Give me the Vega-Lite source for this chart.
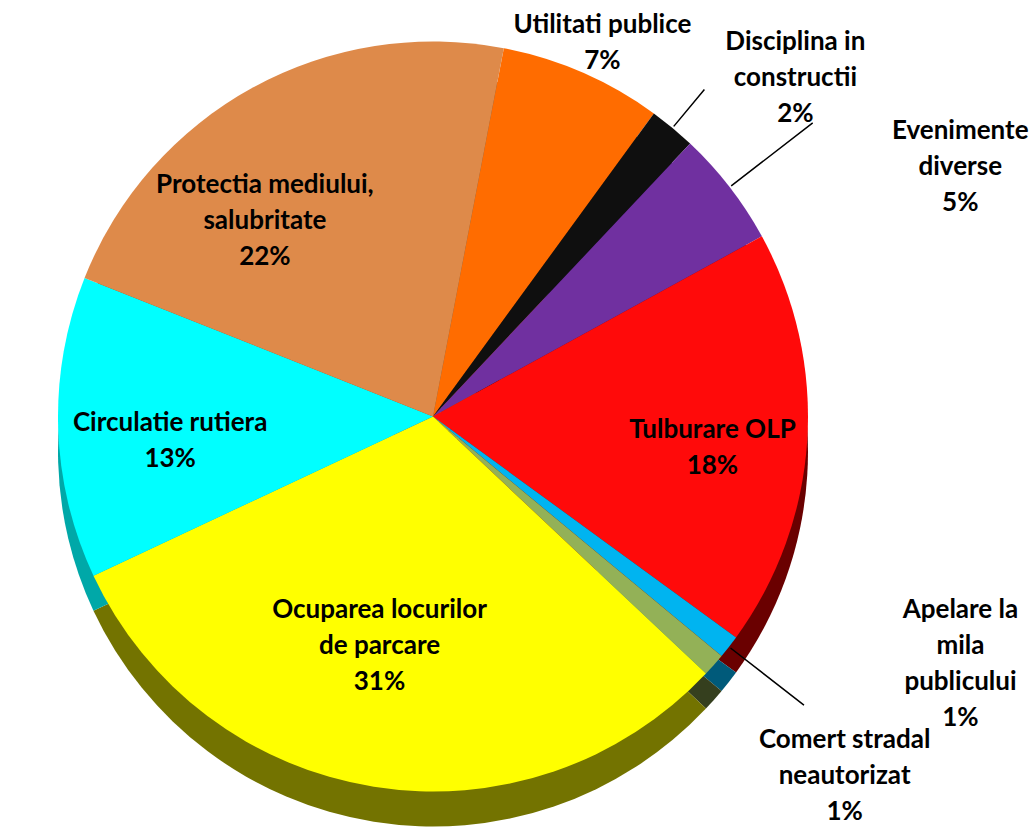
{
  "$schema": "https://vega.github.io/schema/vega-lite/v6.json",
  "width": 866,
  "height": 833,
  "autosize": {"type": "none"},
  "padding": {"left": 0, "top": 0, "right": 169, "bottom": 0},
  "background": "white",
  "config": {"view": {"stroke": null}, "text": {"font": "Lato", "fontWeight": "bold", "fontSize": 26, "lineHeight": 36, "lineBreak": "\n", "align": "center", "baseline": "middle", "color": "black"}},
  "data": {"values": [
    {"ord": 1, "cat": "Utilitati publice", "value": 7, "label": "Utilitati publice\n7%"},
    {"ord": 2, "cat": "Disciplina in constructii", "value": 2, "label": "Disciplina in\nconstructii\n2%"},
    {"ord": 3, "cat": "Evenimente diverse", "value": 5, "label": "Evenimente\ndiverse\n5%"},
    {"ord": 4, "cat": "Tulburare OLP", "value": 18, "label": "Tulburare OLP\n18%"},
    {"ord": 5, "cat": "Apelare la mila publicului", "value": 1, "label": "Apelare la\nmila\npublicului\n1%"},
    {"ord": 6, "cat": "Comert stradal neautorizat", "value": 1, "label": "Comert stradal\nneautorizat\n1%"},
    {"ord": 7, "cat": "Ocuparea locurilor de parcare", "value": 31, "label": "Ocuparea locurilor\nde parcare\n31%"},
    {"ord": 8, "cat": "Circulatie rutiera", "value": 13, "label": "Circulatie rutiera\n13%"},
    {"ord": 9, "cat": "Protectia mediului, salubritate", "value": 22, "label": "Protectia mediului,\nsalubritate\n22%"}
  ]},
  "encoding": {
    "theta": {"field": "value", "type": "quantitative", "stack": true, "scale": {"range": [0.19, 6.4732]}},
    "order": {"field": "ord", "type": "quantitative"},
    "detail": {"field": "cat", "type": "nominal"}
  },
  "layer": [
    {
      "mark": {"type": "arc", "radius": 375, "yOffset": 35},
      "encoding": {
        "color": {"field": "cat", "type": "nominal", "legend": null,
          "scale": {"domain": ["Utilitati publice", "Disciplina in constructii", "Evenimente diverse", "Tulburare OLP", "Apelare la mila publicului", "Comert stradal neautorizat", "Ocuparea locurilor de parcare", "Circulatie rutiera", "Protectia mediului, salubritate"],
                    "range": ["#a04000", "#000000", "#40105a", "#6a0000", "#005a7a", "#353f1e", "#737300", "#00a8a8", "#8a5020"]}}
      }
    },
    {
      "mark": {"type": "arc", "radius": 375},
      "encoding": {
        "fill": {"field": "cat", "type": "nominal", "legend": null,
          "scale": {"domain": ["Utilitati publice", "Disciplina in constructii", "Evenimente diverse", "Tulburare OLP", "Apelare la mila publicului", "Comert stradal neautorizat", "Ocuparea locurilor de parcare", "Circulatie rutiera", "Protectia mediului, salubritate"],
                    "range": ["#FF6C00", "#0f0f0f", "#7030A0", "#FF0A0A", "#00B4F0", "#93B157", "#FFFF00", "#00FFFF", "#DE8A4A"]}}
      }
    },
    {
      "mark": {"type": "arc", "radius": 425, "radius2": 377, "padAngle": 3, "stroke": "black", "strokeWidth": 1.5, "fillOpacity": 0},
      "encoding": {"strokeOpacity": {"condition": {"test": "datum.ord === 2", "value": 1}, "value": 0}}
    },
    {
      "mark": {"type": "arc", "radius": 480, "radius2": 377, "padAngle": 3, "stroke": "black", "strokeWidth": 1.5, "fillOpacity": 0},
      "encoding": {"strokeOpacity": {"condition": {"test": "datum.ord === 3", "value": 1}, "value": 0}}
    },
    {
      "mark": {"type": "arc", "radius": 470, "radius2": 377, "padAngle": 3, "stroke": "black", "strokeWidth": 1.5, "fillOpacity": 0},
      "encoding": {"strokeOpacity": {"condition": {"test": "datum.ord === 5", "value": 1}, "value": 0}}
    },
    {"mark": {"type": "text", "radius": 410, "dx": 6, "dy": -15},
     "encoding": {"text": {"field": "label"}, "opacity": {"condition": {"test": "datum.ord === 1", "value": 1}, "value": 0}}},
    {"mark": {"type": "text", "radius": 450, "dx": 75, "dy": -28},
     "encoding": {"text": {"field": "label"}, "opacity": {"condition": {"test": "datum.ord === 2", "value": 1}, "value": 0}}},
    {"mark": {"type": "text", "radius": 420, "dx": 195, "dy": -29},
     "encoding": {"text": {"field": "label"}, "opacity": {"condition": {"test": "datum.ord === 3", "value": 1}, "value": 0}}},
    {"mark": {"type": "text", "radius": 270, "dx": 10, "dy": -4},
     "encoding": {"text": {"field": "label"}, "opacity": {"condition": {"test": "datum.ord === 4", "value": 1}, "value": 0}}},
    {"mark": {"type": "text", "radius": 420, "dx": 196, "dy": -64},
     "encoding": {"text": {"field": "label"}, "opacity": {"condition": {"test": "datum.ord === 5", "value": 1}, "value": 0}}},
    {"mark": {"type": "text", "radius": 420, "dx": 97, "dy": 45},
     "encoding": {"text": {"field": "label"}, "opacity": {"condition": {"test": "datum.ord === 6", "value": 1}, "value": 0}}},
    {"mark": {"type": "text", "radius": 250, "dx": -14, "dy": -53},
     "encoding": {"text": {"field": "label"}, "opacity": {"condition": {"test": "datum.ord === 7", "value": 1}, "value": 0}}},
    {"mark": {"type": "text", "radius": 250, "dx": -13, "dy": -1},
     "encoding": {"text": {"field": "label"}, "opacity": {"condition": {"test": "datum.ord === 8", "value": 1}, "value": 0}}},
    {"mark": {"type": "text", "radius": 250, "dx": -48, "dy": -12},
     "encoding": {"text": {"field": "label"}, "opacity": {"condition": {"test": "datum.ord === 9", "value": 1}, "value": 0}}}
  ],
  "resolve": {"scale": {"color": "independent", "fill": "independent"}}
}
